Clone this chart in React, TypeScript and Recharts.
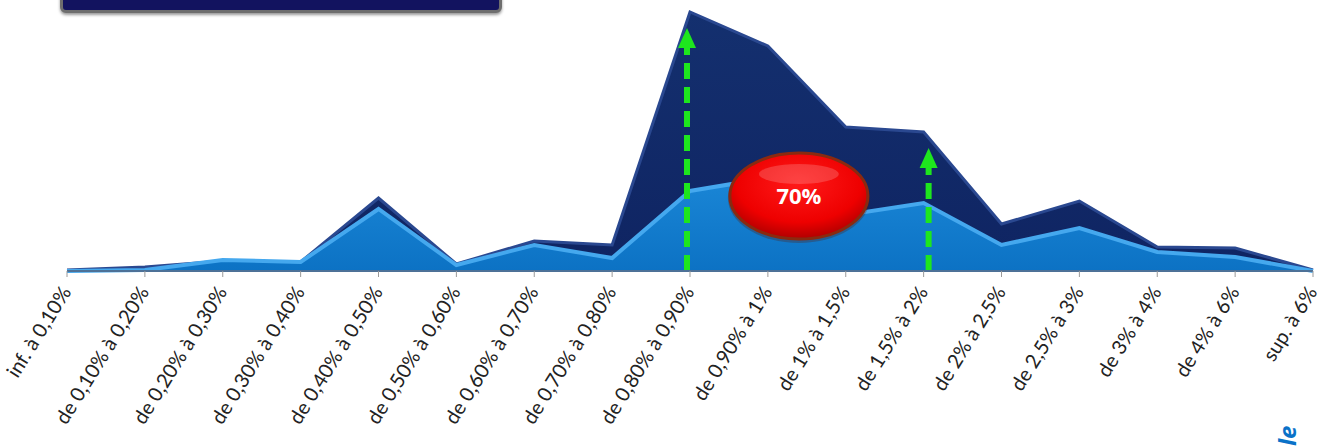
import React from 'react';
import { AreaChart, Area, XAxis, YAxis, ReferenceLine, ReferenceDot } from 'recharts';

const categories = [
  'inf. à 0,10%', 'de 0,10% à 0,20%', 'de 0,20% à 0,30%', 'de 0,30% à 0,40%', 'de 0,40% à 0,50%',
  'de 0,50% à 0,60%', 'de 0,60% à 0,70%', 'de 0,70% à 0,80%', 'de 0,80% à 0,90%', 'de 0,90% à 1%',
  'de 1% à 1,5%', 'de 1,5% à 2%', 'de 2% à 2,5%', 'de 2,5% à 3%', 'de 3% à 4%', 'de 4% à 6%', 'sup. à 6%',
];
const totalSeries = [0.1, 0.4, 1.0, 0.9, 7.3, 0.7, 3.0, 2.6, 25.9, 22.5, 14.4, 13.9, 4.7, 7.0, 2.4, 2.3, 0.1];
const partSeries = [0.0, 0.1, 1.1, 0.9, 6.2, 0.6, 2.6, 1.3, 8.0, 9.3, 5.6, 6.8, 2.6, 4.3, 1.9, 1.4, 0.0];
const arrowTargets = [
  { category: 'de 0,80% à 0,90%', value: 24.3 },
  { category: 'de 1,5% à 2%', value: 12.3 },
];
const badgeCategory = 'de 0,90% à 1%';
const badgeValue = 7.5;
const badgeText = '70%';

const data = categories.map((c, i) => ({ name: c, total: totalSeries[i], part: partSeries[i] }));

const Tick = (props: any) => {
  const { x, y, payload } = props;
  return (
    <g transform={`translate(${x + 5},${y + 13})`}>
      <text
        x={0}
        y={0}
        transform="rotate(-58)"
        textAnchor="end"
        fontFamily="Lato, sans-serif"
        fontSize={20}
        fill="#222"
      >
        {payload.value}
      </text>
    </g>
  );
};

const ArrowShape = (props: any) => {
  const { x1, y1, x2, y2, dx = 0 } = props;
  if (x1 == null) return null;
  const top = Math.min(y1, y2);
  const bottom = Math.max(y1, y2);
  const x = x1 + dx;
  return (
    <g>
      <line x1={x} y1={bottom} x2={x} y2={top + 16} stroke="#1ee61e" strokeWidth={6} strokeDasharray="16 8" />
      <polygon points={`${x - 9},${top + 20} ${x},${top} ${x + 9},${top + 20}`} fill="#1ee61e" />
    </g>
  );
};

const Badge = (props: any) => {
  const { cx, cy } = props;
  if (cx == null) return null;
  const x = cx + 31;
  return (
    <g>
      <ellipse cx={x} cy={cy + 2} rx={71} ry={45} fill="#5a1a0a" opacity={0.3} />
      <ellipse cx={x} cy={cy} rx={69} ry={43} fill="url(#badgeGrad)" stroke="#8a2a10" strokeWidth={3} />
      <ellipse cx={x} cy={cy - 22} rx={40} ry={10} fill="#ffffff" opacity={0.18} />
      <text x={x} y={cy + 8} textAnchor="middle" fill="#fff" fontWeight="bold" fontSize={22} fontFamily="'Open Sans', sans-serif">
        {badgeText}
      </text>
    </g>
  );
};

export default function App() {
  return (
    <div style={{ position: 'fixed', left: 0, top: 0, width: 1326, height: 448, background: '#fff', overflow: 'hidden' }}>
      <div style={{ position: 'absolute', left: 60, top: -12, width: 436, height: 19, background: '#12135f', border: '3px solid #6e6e6e', borderRadius: 6, boxShadow: '0 2px 3px rgba(0,0,0,0.4)' }} />
      <AreaChart width={1326} height={448} data={data} margin={{ top: 12, right: 13, left: 67, bottom: 7 }}>
        <defs>
          <linearGradient id="darkGrad" x1="0" y1="0" x2="0" y2="1">
            <stop offset="0%" stopColor="#14306f" />
            <stop offset="100%" stopColor="#0f2462" />
          </linearGradient>
          <linearGradient id="lightGrad" x1="0" y1="0" x2="0" y2="1">
            <stop offset="0%" stopColor="#1a86d6" />
            <stop offset="100%" stopColor="#0c72c4" />
          </linearGradient>
          <radialGradient id="badgeGrad" cx="50%" cy="35%" r="65%">
            <stop offset="0%" stopColor="#ff1a1a" />
            <stop offset="70%" stopColor="#ee0000" />
            <stop offset="100%" stopColor="#b00000" />
          </radialGradient>
        </defs>
        <XAxis
          dataKey="name"
          interval={0}
          height={170}
          tick={<Tick />}
          tickLine={{ stroke: '#9a9a9a' }}
          tickSize={6}
          axisLine={{ stroke: '#4d7197', strokeWidth: 2 }}
        />
        <YAxis hide domain={[0, 25.9]} />
        <Area type="linear" dataKey="total" stroke="#2a4890" strokeWidth={3} fill="url(#darkGrad)" fillOpacity={1} isAnimationActive={false} />
        <Area type="linear" dataKey="part" stroke="#45a8ee" strokeWidth={4} fill="url(#lightGrad)" fillOpacity={1} isAnimationActive={false} />
        <ReferenceLine
          segment={[{ x: arrowTargets[0].category, y: 0 }, { x: arrowTargets[0].category, y: arrowTargets[0].value }]}
          shape={<ArrowShape dx={-3} />}
          ifOverflow="visible"
        />
        <ReferenceLine
          segment={[{ x: arrowTargets[1].category, y: 0 }, { x: arrowTargets[1].category, y: arrowTargets[1].value }]}
          shape={<ArrowShape dx={5} />}
          ifOverflow="visible"
        />
        <ReferenceDot x={badgeCategory} y={badgeValue} r={1} shape={<Badge />} ifOverflow="visible" />
      </AreaChart>
      <div style={{ position: 'absolute', left: 1275, top: 446, transform: 'rotate(-90deg)', transformOrigin: 'left top', color: '#0a72c8', fontStyle: 'italic', fontWeight: 'bold', fontSize: 24, lineHeight: '24px', fontFamily: "'Open Sans', sans-serif", whiteSpace: 'nowrap' }}>
        le
      </div>
    </div>
  );
}
